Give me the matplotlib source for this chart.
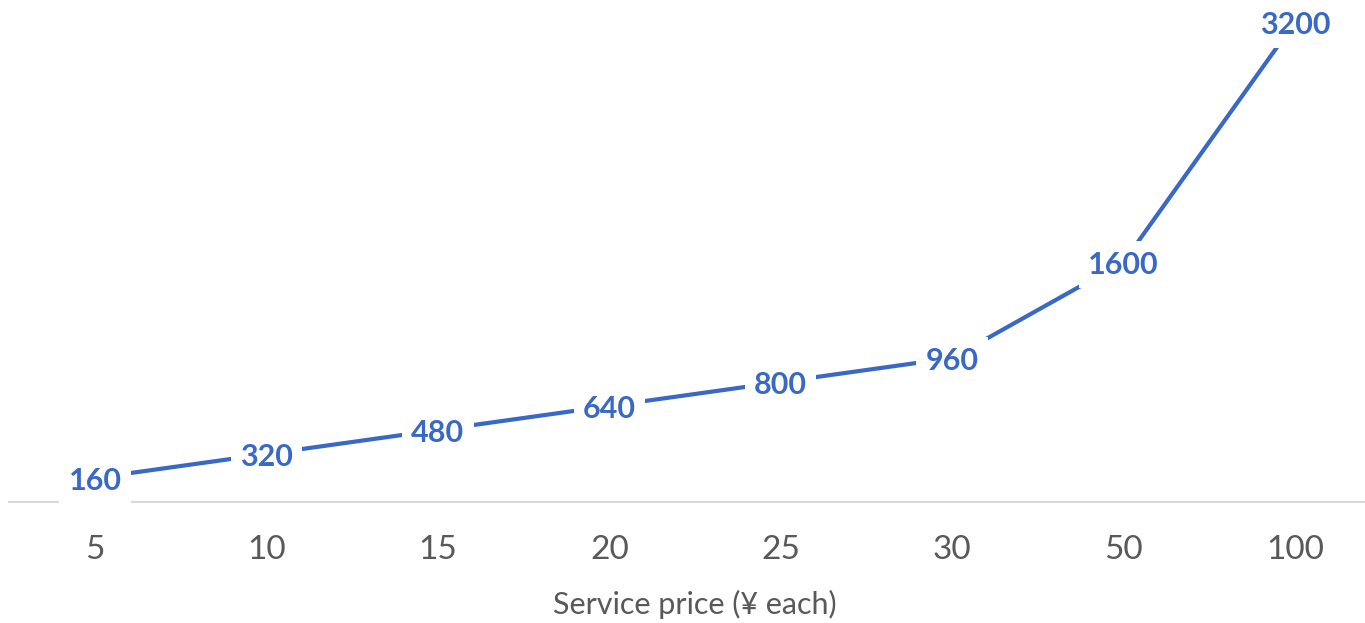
import matplotlib.pyplot as plt

plt.rcParams["font.family"] = ["Lato", "DejaVu Sans"]

prices = ["5", "10", "15", "20", "25", "30", "50", "100"]
values = [160, 320, 480, 640, 800, 960, 1600, 3200]

line_color = "#3A68C6"

fig = plt.figure(figsize=(13.65, 6.23), dpi=100)
ax = fig.add_axes([9.3 / 1365, 121 / 623, 1371.4 / 1365, 480 / 623])

x = range(len(prices))
ax.plot(x, values, color=line_color, lw=3.0, solid_capstyle="butt", zorder=2)

for xi, v in zip(x, values):
    ax.text(xi, v, str(v), ha="center", va="center_baseline", fontsize=22,
            fontweight="bold", color=line_color, zorder=4, clip_on=False,
            bbox=dict(boxstyle="square,pad=0.3", fc="white", ec="none"))

ax.set_xlim(-0.5, len(prices) - 0.5)
ax.set_ylim(0, 3200)
ax.set_xticks(list(x))
ax.set_xticklabels(prices, fontsize=24, color="#595959")
ax.tick_params(axis="x", length=0, pad=24)
ax.set_yticks([])

for side in ["top", "right", "left"]:
    ax.spines[side].set_visible(False)
ax.spines["bottom"].set_color("#D9D9D9")
ax.spines["bottom"].set_linewidth(1.5)
ax.spines["bottom"].set_zorder(1)

ax.set_xlabel("Service price (¥ each)", fontsize=22, color="#595959", labelpad=18)

fig.savefig("out.png", dpi=100)
